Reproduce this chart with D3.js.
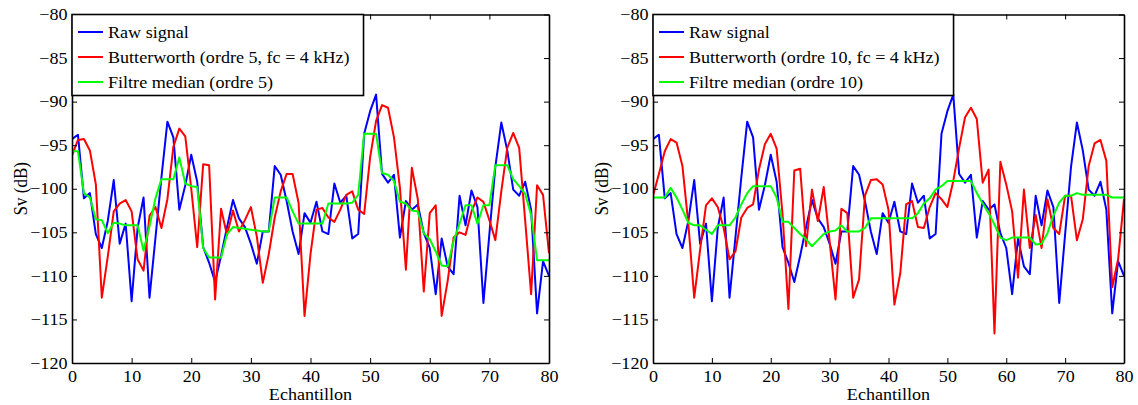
<!DOCTYPE html>
<html><head><meta charset="utf-8">
<script src="https://cdn.jsdelivr.net/npm/d3@7"></script>
<style>body{margin:0;background:#fff}svg{display:block}
svg text{font-family:"Liberation Serif","Times New Roman","Nimbus Roman","DejaVu Serif",serif;fill:#000}</style>
</head><body>
<script>
const samples = d3.range(0, 81);
const xTicks = [0, 10, 20, 30, 40, 50, 60, 70, 80];
const yTicks = [-120, -115, -110, -105, -100, -95, -90, -85, -80];
const xLabel = "Echantillon";
const yLabel = "Sv (dB)";

const rawSignal = [-94.3,-93.8,-101.1,-100.5,-105.2,-106.8,-103.7,-99.0,-106.3,-104.0,
-112.9,-104.5,-101.0,-112.5,-105.6,-98.7,-92.3,-94.1,-102.4,-99.6,
-96.1,-99.2,-106.7,-108.5,-110.7,-107.7,-104.4,-101.3,-103.4,-104.4,
-106.3,-108.6,-104.9,-104.9,-97.4,-98.4,-101.4,-104.9,-107.5,-102.8,
-103.9,-101.5,-104.9,-105.2,-99.4,-101.6,-100.8,-105.7,-105.2,-93.7,
-91.1,-89.2,-98.3,-99.3,-98.4,-105.6,-101.4,-102.4,-101.8,-105.1,
-106.8,-112.1,-105.7,-108.9,-109.8,-100.8,-104.2,-100.2,-102.1,-113.1,
-105.2,-97.5,-92.4,-95.6,-100.1,-100.8,-99.2,-102.4,-114.3,-108.3,-110.0];

const butter5 = [-96.2,-94.4,-94.3,-95.6,-99.5,-112.5,-107.8,-102.6,-101.7,-101.3,
-102.6,-108.1,-109.4,-103.1,-102.1,-104.5,-101.2,-95.2,-93.1,-94.0,
-100.0,-106.7,-97.2,-97.3,-112.7,-102.3,-105.3,-102.5,-104.9,-103.6,
-102.1,-105.5,-110.8,-107.5,-103.3,-100.3,-98.3,-98.3,-101.6,-114.6,
-107.5,-102.4,-102.2,-103.3,-103.8,-102.4,-100.7,-100.3,-102.4,-102.9,
-96.4,-92.2,-90.4,-90.7,-94.1,-99.9,-109.3,-97.6,-101.2,-111.8,
-102.8,-101.9,-114.6,-110.6,-105.6,-105.0,-105.3,-102.6,-101.0,-101.5,
-103.6,-105.9,-100.3,-95.3,-93.6,-95.3,-103.6,-112.1,-99.6,-100.7,-107.4];

const median5 = [-95.7,-95.7,-100.5,-101.0,-103.5,-103.6,-105.1,-103.9,-104.0,-104.2,
-104.2,-104.2,-107.1,-104.3,-101.1,-98.9,-98.9,-98.9,-96.4,-99.4,
-99.7,-99.8,-106.8,-107.9,-107.9,-107.9,-105.2,-104.4,-104.5,-104.6,
-104.7,-104.8,-104.9,-104.9,-101.0,-101.0,-101.0,-102.6,-104.0,-104.0,
-104.0,-104.0,-104.0,-101.7,-101.7,-101.7,-101.7,-101.6,-100.7,-93.7,
-93.7,-93.7,-98.2,-98.4,-99.1,-101.5,-101.7,-102.5,-102.6,-105.1,
-105.8,-107.2,-108.8,-108.9,-106.0,-104.0,-101.9,-101.9,-104.0,-101.9,
-101.9,-97.3,-97.3,-97.3,-98.9,-99.7,-100.6,-103.0,-108.2,-108.2,-108.2];

const butter10 = [-100.8,-98.3,-95.7,-94.3,-94.7,-97.4,-104.0,-112.5,-107.0,-101.9,
-101.1,-102.1,-104.5,-108.1,-107.2,-103.3,-102.2,-101.8,-97.8,-94.9,
-93.7,-95.4,-102.9,-113.8,-97.9,-97.7,-106.6,-100.1,-103.7,-99.8,
-106.0,-112.7,-102.3,-102.8,-112.5,-110.4,-100.8,-99.0,-98.9,-99.5,
-102.4,-113.3,-109.7,-101.8,-101.4,-104.4,-104.5,-102.1,-100.5,-101.2,
-102.1,-99.1,-95.3,-91.8,-90.7,-92.0,-99.3,-97.8,-116.6,-96.9,
-99.5,-102.6,-110.2,-100.1,-106.8,-103.0,-106.8,-101.2,-104.5,-105.2,
-100.8,-100.8,-105.9,-103.5,-97.4,-94.8,-94.4,-96.8,-111.3,-108.1,-101.2];

const median10 = [-101.0,-101.0,-101.0,-99.9,-101.0,-102.4,-103.9,-104.2,-104.2,-104.7,
-105.2,-104.2,-104.2,-104.2,-103.3,-101.8,-100.5,-99.7,-99.7,-99.7,
-99.7,-101.0,-103.8,-103.8,-104.5,-105.2,-105.8,-106.6,-105.9,-105.2,
-104.9,-104.8,-104.2,-104.9,-104.9,-104.9,-104.5,-103.4,-103.4,-103.4,
-103.4,-103.4,-103.4,-103.4,-103.4,-102.8,-101.7,-101.1,-100.1,-99.7,
-99.1,-99.1,-99.1,-99.1,-99.1,-100.5,-101.7,-102.8,-104.1,-105.6,
-105.9,-105.6,-105.6,-105.6,-105.6,-106.4,-106.3,-105.1,-103.1,-101.6,
-100.8,-100.8,-100.5,-100.7,-100.7,-100.7,-100.7,-100.7,-101.0,-101.0,-101.0];

const legendLeft = ["Raw signal", "Butterworth (ordre 5, fc = 4 kHz)", "Filtre median (ordre 5)"];
const legendRight = ["Raw signal", "Butterworth (ordre 10, fc = 4 kHz)", "Filtre median (ordre 10)"];
const colors = ["#0000ff", "#ff0000", "#00ff00"];

const W = 1138, H = 405;
const FS = 16, SX = 1.13;
const svg = d3.select("body").append("svg").attr("width", W).attr("height", H);

const panels = [
  {x0: 72, x1: 549, series: [rawSignal, butter5, median5], legend: legendLeft},
  {x0: 653, x1: 1124, series: [rawSignal, butter10, median10], legend: legendRight}
];
const yTop = 14.5, yBot = 363;

panels.forEach((p, pi) => {
  const x = d3.scaleLinear().domain([0, 80]).range([p.x0, p.x1]);
  const y = d3.scaleLinear().domain([-120, -80]).range([yBot, yTop]);
  const g = svg.append("g");
  const clipId = "clip" + pi;
  g.append("clipPath").attr("id", clipId).append("rect")
    .attr("x", p.x0).attr("y", yTop).attr("width", p.x1 - p.x0).attr("height", yBot - yTop);

  const line = d3.line().x((d, i) => x(samples[i])).y(d => y(d));
  const lg = g.append("g").attr("clip-path", `url(#${clipId})`);
  p.series.forEach((s, si) => {
    lg.append("path").datum(s).attr("d", line).attr("fill", "none")
      .attr("stroke", colors[si]).attr("stroke-width", 2).attr("stroke-linejoin", "round");
  });

  const fmt = d3.format("");
  const ax = (gen, tr) => {
    const a = g.append("g").attr("transform", tr).call(gen);
    a.attr("font-family", null);
    a.selectAll("path.domain").attr("stroke", "#000").attr("stroke-width", 1.6);
    a.selectAll(".tick line").attr("stroke", "#000").attr("stroke-width", 1);
    a.selectAll("text").attr("font-size", FS).attr("fill", "#000");
    return a;
  };
  const bx = ax(d3.axisBottom(x).tickValues(xTicks).tickSize(-5).tickSizeOuter(0).tickPadding(8).tickFormat(fmt), `translate(0,${yBot})`);
  bx.selectAll("text").attr("transform", `scale(${SX},1)`);
  ax(d3.axisTop(x).tickValues(xTicks).tickSize(-5).tickSizeOuter(0).tickFormat(""), `translate(0,${yTop})`);
  const lx = ax(d3.axisLeft(y).tickValues(yTicks).tickSize(-5).tickSizeOuter(0).tickPadding(4).tickFormat(fmt), `translate(${p.x0},0)`);
  lx.selectAll("text").attr("transform", `scale(${SX},1)`);
  ax(d3.axisRight(y).tickValues(yTicks).tickSize(-5).tickSizeOuter(0).tickFormat(""), `translate(${p.x1},0)`);

  // axis labels
  g.append("text").attr("transform", `translate(${(p.x0 + p.x1) / 2},400) scale(${SX},1)`)
    .attr("text-anchor", "middle").attr("font-size", FS).text(xLabel);
  g.append("text").attr("transform", `translate(${p.x0 - 45},${(yTop + yBot) / 2}) rotate(-90) scale(1,${SX})`)
    .attr("text-anchor", "middle").attr("font-size", FS + 1).text(yLabel);

  // legend
  const leg = g.append("g");
  const box = leg.append("rect").attr("x", p.x0).attr("y", yTop).attr("height", 81)
    .attr("fill", "#fff").attr("stroke", "#000").attr("stroke-width", 1.6);
  let maxW = 0;
  p.legend.forEach((t, k) => {
    const cy = yTop + 17.5 + k * 25;
    leg.append("line").attr("x1", p.x0 + 6).attr("x2", p.x0 + 31).attr("y1", cy).attr("y2", cy)
      .attr("stroke", colors[k]).attr("stroke-width", 2);
    const tx = leg.append("text").attr("transform", `translate(${p.x0 + 36},${cy}) scale(${SX},1)`)
      .attr("dy", "0.35em").attr("font-size", FS).text(t);
    maxW = Math.max(maxW, tx.node().getComputedTextLength() * SX);
  });
  box.attr("width", 36 + maxW + 14);
});
</script>
</body></html>
